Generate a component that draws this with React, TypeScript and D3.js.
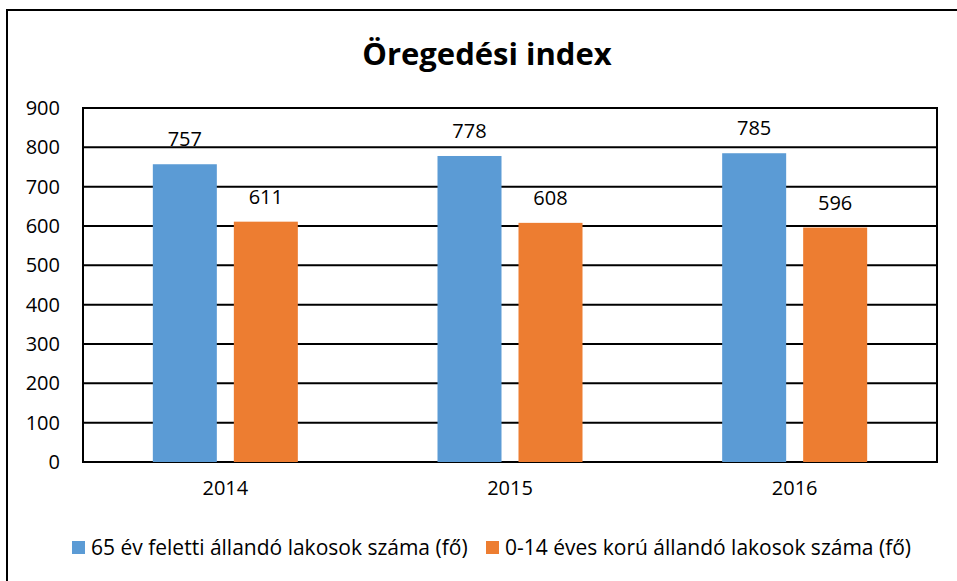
import React, { useEffect, useRef } from 'react'
import { select, scaleBand, scaleLinear, axisLeft, axisBottom } from 'd3'

const years = ['2014', '2015', '2016']
const seriesNames = ['65 év feletti állandó lakosok száma (fő)', '0-14 éves korú állandó lakosok száma (fő)']
const over65 = [757, 778, 785]
const under14 = [611, 608, 596]
const yTicks = [0, 100, 200, 300, 400, 500, 600, 700, 800, 900]
const colors = ['#5b9bd5', '#ed7d31']

const W = 957
const H = 581
const FONT = '"Open Sans", Lato, sans-serif'

function App() {
  const ref = useRef<SVGSVGElement>(null)

  useEffect(() => {
    const svg = select(ref.current)
    svg.selectAll('*').remove()

    const margin = { top: 108, right: 20, bottom: 119, left: 83 }
    const width = 937 - margin.left
    const height = 462 - margin.top

    // outer frame
    svg.append('rect')
      .attr('x', 7).attr('y', 10)
      .attr('width', W).attr('height', H)
      .attr('fill', 'white').attr('stroke', 'black').attr('stroke-width', 2)

    svg.append('text')
      .attr('x', 487).attr('y', 65)
      .attr('text-anchor', 'middle')
      .style('font-family', FONT).style('font-weight', 'bold').style('font-size', '31px')
      .text('Öregedési index')

    const g = svg.append('g').attr('transform', `translate(${margin.left},${margin.top})`)

    const x = scaleBand().domain(years).range([0, width])
    const y = scaleLinear().domain([0, 900]).range([height, 0])

    // grid lines
    g.selectAll('.grid')
      .data(yTicks)
      .join('line')
      .attr('x1', 0).attr('x2', width)
      .attr('y1', d => y(d)).attr('y2', d => y(d))
      .attr('stroke', 'black').attr('stroke-width', 2)

    const yAxis = g.append('g').call(axisLeft(y).tickValues(yTicks).tickSize(0).tickPadding(23))
    yAxis.select('.domain').remove()
    yAxis.selectAll('text')
      .style('font-family', FONT).style('font-size', '20px').attr('fill', 'black')

    const xAxis = g.append('g').attr('transform', `translate(0,${height})`)
      .call(axisBottom(x).tickSize(0).tickPadding(19))
    xAxis.select('.domain').remove()
    xAxis.selectAll('text')
      .style('font-family', FONT).style('font-size', '20px').attr('fill', 'black')

    // plot frame
    g.append('rect')
      .attr('x', 0).attr('y', 0).attr('width', width).attr('height', height)
      .attr('fill', 'none').attr('stroke', 'black').attr('stroke-width', 2)

    const barW = 64
    const gap = 17
    const series = [over65, under14]
    series.forEach((vals, si) => {
      const off = si === 0 ? -gap / 2 - barW : gap / 2
      g.selectAll(`.bar${si}`)
        .data(vals)
        .join('rect')
        .attr('x', (d, i) => (x(years[i]) as number) + x.bandwidth() / 2 + off)
        .attr('y', d => y(d))
        .attr('width', barW)
        .attr('height', d => height - y(d))
        .attr('fill', colors[si])
      g.selectAll(`.lab${si}`)
        .data(vals)
        .join('text')
        .attr('x', (d, i) => (x(years[i]) as number) + x.bandwidth() / 2 + off + barW / 2)
        .attr('y', d => y(d) - 18)
        .attr('text-anchor', 'middle')
        .style('font-family', FONT).style('font-size', '20px')
        .text(d => d)
    })

    // legend
    const legendX = [72, 486]
    seriesNames.forEach((name, i) => {
      svg.append('rect')
        .attr('x', legendX[i]).attr('y', 541).attr('width', 13).attr('height', 13)
        .attr('fill', colors[i])
      svg.append('text')
        .attr('x', legendX[i] + 19).attr('y', 555)
        .style('font-family', FONT).style('font-size', '21px')
        .text(name)
    })
  }, [])

  return (
    <svg ref={ref} width={W} height={H} style={{ position: 'absolute', left: 0, top: 0 }} />
  )
}

export default App
